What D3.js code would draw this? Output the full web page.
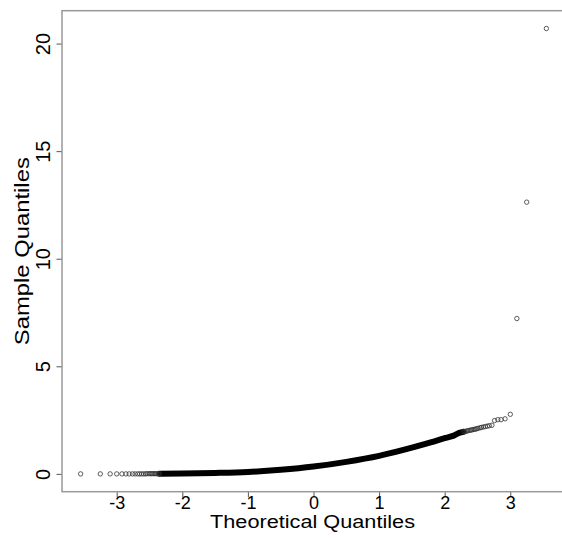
<!DOCTYPE html>
<html>
<head>
<meta charset="utf-8">
<script src="https://cdn.jsdelivr.net/npm/d3@7"></script>
<style>
  body { margin: 0; background: #fff; }
  svg text { font-family: 'Liberation Sans', Arial, Helvetica, sans-serif; fill: #000; }
</style>
</head>
<body>
<div id="svg-container"></div>
<script>
// single points in the lower tail (theoretical, sample)
const lowTheo = [-3.55, -3.25, -3.10, -3.00, -2.92, -2.86, -2.81, -2.76, -2.72, -2.68,
  -2.65, -2.62, -2.59, -2.56, -2.54, -2.51, -2.49, -2.47, -2.45, -2.43, -2.41, -2.39, -2.37, -2.35];
const lowSample = [0.00, 0.00, 0.00, 0.00, 0.00, 0.00, 0.00, 0.00, 0.00, 0.00,
  0.00, 0.00, 0.00, 0.00, 0.01, 0.01, 0.01, 0.01, 0.01, 0.01, 0.01, 0.01, 0.01, 0.01];

// single points in the upper tail, outliers included
const highTheo = [3.55, 3.25, 3.10, 3.00, 2.92, 2.86, 2.81, 2.76, 2.72, 2.68,
  2.65, 2.62, 2.59, 2.56, 2.54, 2.51, 2.49, 2.47, 2.45, 2.43, 2.41, 2.39, 2.37, 2.35, 2.33, 2.31, 2.29];
const highSample = [20.70, 12.63, 7.22, 2.77, 2.56, 2.52, 2.52, 2.48, 2.26, 2.24,
  2.22, 2.20, 2.18, 2.16, 2.14, 2.12, 2.10, 2.08, 2.07, 2.06, 2.04, 2.03, 2.02, 2.00, 1.99, 1.97, 1.96];

// the dense middle of the sample, where the circles merge into one band
const bandTheo = [-2.35, -2.0, -1.5, -1.0, -0.5, 0.0, 0.5, 1.0, 1.5, 1.8, 2.0, 2.1, 2.15, 2.2, 2.25, 2.29];
const bandSample = [0.01, 0.02, 0.045, 0.09, 0.19, 0.34, 0.56, 0.84, 1.22, 1.48, 1.66, 1.74, 1.80, 1.88, 1.93, 1.96];

const xTicks = [-3, -2, -1, 0, 1, 2, 3];
const yTicks = [0, 5, 10, 15, 20];

const W = 562;
const H = 539;
const plot = { left: 62, right: 565, top: 10.7, bottom: 491.7 };

const svg = d3.select('#svg-container').
append('svg').
attr('width', W).
attr('height', H);

const xScale = d3.scaleLinear().
domain([-3.834, 3.834]).
range([plot.left, plot.right]);

const yScale = d3.scaleLinear().
domain([-0.828, 21.528]).
range([plot.bottom, plot.top]);

const points = lowTheo.map((t, i) => [t, lowSample[i]]).
concat(highTheo.map((t, i) => [t, highSample[i]]));
const band = bandTheo.map((t, i) => [t, bandSample[i]]);

// dense band
svg.append('path').
datum(band).
attr('d', d3.line().
x(d => xScale(d[0])).
y(d => yScale(d[1])).
curve(d3.curveMonotoneX)).
style('fill', 'none').
style('stroke', '#000').
style('stroke-width', 6).
style('stroke-linecap', 'round');

svg.append('g').
selectAll('circle').
data(points).
enter().
append('circle').
attr('cx', d => xScale(d[0])).
attr('cy', d => yScale(d[1])).
attr('r', 2.2).
style('fill', 'none').
style('stroke', '#333').
style('stroke-width', 0.8);

// axes
const yAxis = d3.axisLeft(yScale).
tickValues(yTicks).
tickSize(5.5).
tickFormat(d => String(d));

const gy = svg.append('g').
attr('transform', 'translate(' + plot.left + ',0)').
call(yAxis);
gy.select('.domain').remove();
gy.selectAll('line').style('stroke', '#555');
gy.selectAll('text').
attr('x', null).
attr('dy', null).
attr('transform', 'translate(-12,0) rotate(-90)').
style('text-anchor', 'middle').
style('font-size', '20px');

const xAxis = d3.axisBottom(xScale).
tickValues(xTicks).
tickSize(5.5).
tickFormat(d => String(d));

const gx = svg.append('g').
attr('transform', 'translate(0,' + plot.bottom + ')').
call(xAxis);
gx.select('.domain').remove();
gx.selectAll('line').style('stroke', '#555');
gx.selectAll('text').
attr('y', 17.5).
attr('dy', null).
style('font-size', '18px');

// box round the plot
svg.append('rect').
attr('x', plot.left).
attr('y', plot.top).
attr('width', plot.right - plot.left).
attr('height', plot.bottom - plot.top).
style('fill', 'none').
style('stroke', '#999').
style('stroke-width', 1.5);

svg.append('text').
text('Theoretical Quantiles').
attr('x', (plot.left + plot.right) / 2 - 1).
attr('y', 528).
attr('textLength', 205).
attr('lengthAdjust', 'spacingAndGlyphs').
style('text-anchor', 'middle').
style('font-size', '17.5px');

svg.append('text').
text('Sample Quantiles').
attr('transform', 'translate(29,' + (plot.top + plot.bottom) / 2 + ') rotate(-90)').
attr('textLength', 188).
attr('lengthAdjust', 'spacingAndGlyphs').
style('text-anchor', 'middle').
style('font-size', '20px');
</script>
</body>
</html>
